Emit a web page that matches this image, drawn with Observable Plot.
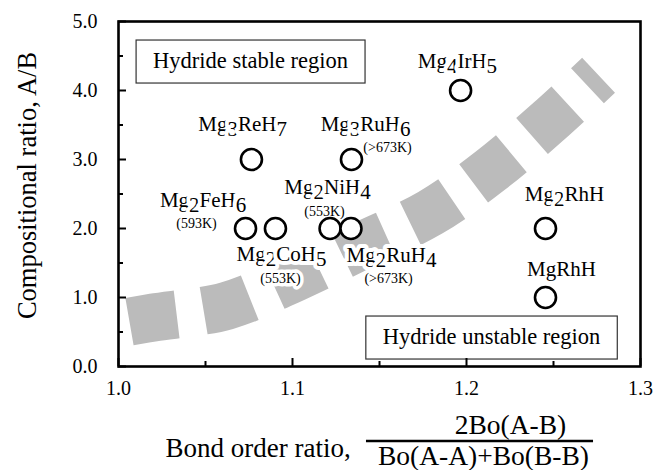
<!DOCTYPE html>
<html>
<head>
<meta charset="utf-8">
<script src="https://cdn.jsdelivr.net/npm/d3@7"></script>
<script src="https://cdn.jsdelivr.net/npm/@observablehq/plot@0.6"></script>
<style>
  html, body { margin: 0; padding: 0; background: #fff; }
  #chart { width: 665px; height: 470px; }
</style>
</head>
<body>
<div id="chart"></div>
<script>
// ---- data ----
const compounds = ["Mg_4IrH_5", "Mg_3ReH_7", "Mg_3RuH_6", "Mg_2FeH_6", "Mg_2CoH_5", "Mg_2NiH_4", "Mg_2RuH_4", "Mg_2RhH", "MgRhH"];
const bondOrderRatio = [1.1966, 1.0764, 1.1339, 1.0730, 1.0902, 1.1216, 1.1336, 1.2454, 1.2454];
const compositionalRatio = [4, 3, 3, 2, 2, 2, 2, 2, 1];
const labelX = [1.1948, 1.0713, 1.1420, 1.0486, 1.0937, 1.1201, 1.1569, 1.2563, 1.2546];
const labelY = [4.43, 3.51, 3.51, 2.41, 1.63, 2.60, 1.61, 2.49, 1.41];

const tempText = ["(>673K)", "(593K)", "(553K)", "(553K)", "(>673K)"];
const tempX = [1.1546, 1.0448, 1.0931, 1.1184, 1.1552];
const tempY = [3.17, 2.07, 1.27, 2.25, 1.27];

const regionText = ["Hydride stable region", "Hydride unstable region"];
const regionX = [1.0759, 1.2144];
const regionY = [4.43, 0.43];

const boundaryX = [1.0063, 1.0201, 1.0621, 1.1017, 1.1397, 1.1793, 1.2138, 1.2471, 1.2759];
const boundaryY = [0.65, 0.71, 0.88, 1.29, 1.75, 2.23, 2.84, 3.55, 4.22];

const xTickValues = [1.0, 1.1, 1.2, 1.3];
const xMinorTickValues = [1.05, 1.15, 1.25];
const yTickValues = [0, 1, 2, 3, 4, 5];
const yMinorTickValues = [0.5, 1.5, 2.5, 3.5, 4.5];

const yTitle = "Compositional ratio, A/B";
const xTitle = "Bond order ratio,";
const xTitleNumerator = "2Bo(A-B)";
const xTitleDenominator = "Bo(A-A)+Bo(B-B)";

// ---- tables ----
const points = compounds.map((name, i) => ({name, x: bondOrderRatio[i], y: compositionalRatio[i], lx: labelX[i], ly: labelY[i]}));
const temps = tempText.map((t, i) => ({t, x: tempX[i], y: tempY[i]}));
const regions = regionText.map((t, i) => ({t, x: regionX[i], y: regionY[i]}));
const boundary = boundaryX.map((x, i) => ({x, y: boundaryY[i]}));

const SERIF = "'Liberation Serif', 'Times New Roman', 'DejaVu Serif', serif";
const fmt = d3.format(".1f");

const plot = Plot.plot({
  width: 665,
  height: 470,
  marginTop: 21,
  marginRight: 25,
  marginBottom: 104,
  marginLeft: 118,
  x: {domain: [1.0, 1.3]},
  y: {domain: [0, 5]},
  style: {fontFamily: SERIF, fontSize: "20px", color: "black", background: "white", overflow: "visible"},
  marks: [
    Plot.line(boundary, {x: "x", y: "y", curve: "catmull-rom", stroke: "#bbbbbb", strokeWidth: 48,
      strokeDasharray: "48,27", strokeLinecap: "butt", strokeLinejoin: "miter"}),
    Plot.text(points, {x: "lx", y: "ly", text: "name", fontSize: 21, fill: "black",
      stroke: "white", strokeWidth: 8, lineAnchor: "middle"}),
    Plot.text(temps, {x: "x", y: "y", text: "t", fontSize: 14, fill: "black",
      stroke: "white", strokeWidth: 7, lineAnchor: "middle"}),
    Plot.dot(points, {x: "x", y: "y", r: 10.5, stroke: "black", strokeWidth: 2.6, fill: "white"}),
    Plot.text(regions, {x: "x", y: "y", text: "t", fontSize: 22.5, fill: "black", lineAnchor: "middle"}),
    Plot.tickX(xTickValues, {x: d => d, insetTop: 337, stroke: "black", strokeWidth: 2}),
    Plot.tickX(xMinorTickValues, {x: d => d, insetTop: 340, stroke: "black", strokeWidth: 2}),
    Plot.tickY(yTickValues, {y: d => d, insetRight: 514, stroke: "black", strokeWidth: 2}),
    Plot.tickY(yMinorTickValues, {y: d => d, insetRight: 517, stroke: "black", strokeWidth: 2}),
    Plot.frame({stroke: "black", strokeWidth: 2.6}),
    Plot.axisX(xTickValues, {tickSize: 0, tickPadding: 14, tickFormat: fmt, label: null, fontSize: 20}),
    Plot.axisY(yTickValues, {tickSize: 0, tickPadding: 21, tickFormat: fmt, label: null, fontSize: 20}),
    Plot.text([yTitle], {text: d => d, frameAnchor: "left", textAnchor: "middle", rotate: -90, dx: -91, dy: -8.5, fontSize: 26.5, lineAnchor: "middle"}),
    Plot.text([xTitle], {text: d => d, frameAnchor: "bottom", textAnchor: "start", lineAnchor: "bottom", dx: -214, dy: 90, fontSize: 27}),
    Plot.text([xTitleNumerator], {text: d => d, frameAnchor: "bottom", textAnchor: "middle", lineAnchor: "bottom", dx: 131, dy: 67, fontSize: 27.5}),
    Plot.text([xTitleDenominator], {text: d => d, frameAnchor: "bottom", textAnchor: "middle", lineAnchor: "bottom", dx: 104, dy: 98, fontSize: 27.5})
  ]
});

document.getElementById("chart").append(plot);

const svg = d3.select(plot);
const NS = "http://www.w3.org/2000/svg";

// subscripts: "_n" -> lowered digits
svg.selectAll("text").each(function () {
  const el = this;
  const tspans = el.querySelectorAll("tspan");
  const target = tspans.length === 1 ? tspans[0] : el;
  const s = target.textContent;
  if (!s.includes("_")) return;
  const parts = s.split(/(_\d+)/).filter(p => p.length);
  target.textContent = "";
  let lowered = false;
  for (const p of parts) {
    const t = document.createElementNS(NS, "tspan");
    if (p.startsWith("_")) {
      t.textContent = p.slice(1);
      t.setAttribute("dy", "0.24em");
      lowered = true;
    } else {
      t.textContent = p;
      if (lowered) { t.setAttribute("dy", "-0.24em"); lowered = false; }
    }
    target.appendChild(t);
  }
});

const svgRect = plot.getBoundingClientRect();
const allText = Array.from(plot.querySelectorAll("text"));

// boxes around region labels
for (const label of regionText) {
  const el = allText.find(t => t.textContent === label);
  if (!el) continue;
  const r = el.getBoundingClientRect();
  const cx = r.left + r.width / 2 - svgRect.left;
  const cy = r.top + r.height / 2 - svgRect.top;
  const w = r.width + 34, h = 43;
  const rect = document.createElementNS(NS, "rect");
  rect.setAttribute("x", cx - w / 2);
  rect.setAttribute("y", cy - h / 2 + 1);
  rect.setAttribute("width", w);
  rect.setAttribute("height", h);
  rect.setAttribute("fill", "white");
  rect.setAttribute("stroke", "#333");
  rect.setAttribute("stroke-width", "1.2");
  const g = el.parentNode;
  const holder = document.createElementNS(NS, "g");
  holder.appendChild(rect);
  g.parentNode.insertBefore(holder, g);
}

// fraction bar, spanning the fraction with a little overhang
const num = allText.find(t => t.textContent === xTitleNumerator);
const den = allText.find(t => t.textContent === xTitleDenominator);
if (num && den) {
  const rn = num.getBoundingClientRect(), rd = den.getBoundingClientRect();
  const x1 = Math.min(rn.left, rd.left) - svgRect.left - 12;
  const x2 = Math.max(rn.right, rd.right) - svgRect.left + 4;
  const line = document.createElementNS(NS, "line");
  line.setAttribute("x1", x1); line.setAttribute("x2", x2);
  line.setAttribute("y1", 441); line.setAttribute("y2", 441);
  line.setAttribute("stroke", "black");
  line.setAttribute("stroke-width", "2.4");
  plot.appendChild(line);
}
</script>
</body>
</html>
